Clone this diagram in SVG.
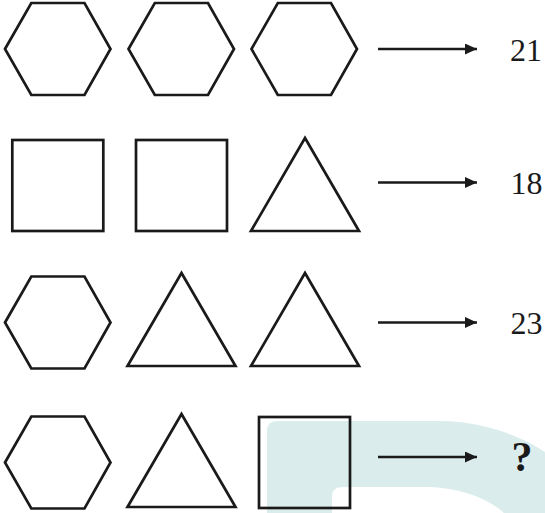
<svg xmlns="http://www.w3.org/2000/svg" xmlns:xlink="http://www.w3.org/1999/xlink" width="545" height="513" viewBox="0 0 545 513">
<style>
.s{fill:none;stroke:#1a1a1a;stroke-width:2.7;stroke-linejoin:miter}
.a{stroke:#1a1a1a;stroke-width:2.6;fill:none}
.t{font-family:"Liberation Serif","Times New Roman",serif;font-size:32px;fill:#1a1a1a}
.q{font-family:"Liberation Serif","Times New Roman",serif;font-size:42px;font-weight:bold;fill:#1a1a1a}
</style>
<defs>
<polygon id="hex" points="0,46 26.3,0 79.5,0 105.5,46 79.5,92 26.3,92"/>
<polygon id="tri" points="54,0 108,93 0,93"/>
<marker id="ah" viewBox="0 0 12 11" refX="12" refY="5.5" markerWidth="12" markerHeight="11" markerUnits="userSpaceOnUse" orient="auto">
<path d="M0,0 L12,5.5 L0,11 Z" fill="#1a1a1a"/>
</marker>
</defs>
<rect width="545" height="513" fill="#ffffff"/>
<path id="watermark" fill="#dbeced" fill-rule="evenodd" d="M267,513 L267,431 Q267,421 277,421 L440,421 C485,421 525,438 545,452 L545,513 Z M332,513 L332,497 Q332,487 342,487 L425,487 C458,487 488,498 504,513 Z"/>
<g id="r1-hex1"><use xlink:href="#hex" class="s" x="5" y="3"/></g>
<g id="r1-hex2"><use xlink:href="#hex" class="s" x="128.5" y="3"/></g>
<g id="r1-hex3"><use xlink:href="#hex" class="s" x="251.5" y="3"/></g>
<g id="r2-sq1"><rect class="s" x="12.3" y="140" width="91" height="91"/></g>
<g id="r2-sq2"><rect class="s" x="136" y="140" width="91" height="91"/></g>
<g id="r2-tri"><use xlink:href="#tri" class="s" x="251" y="138"/></g>
<g id="r3-hex"><use xlink:href="#hex" class="s" x="5" y="276.5"/></g>
<g id="r3-tri1"><use xlink:href="#tri" class="s" x="127.5" y="273"/></g>
<g id="r3-tri2"><use xlink:href="#tri" class="s" x="251" y="273"/></g>
<g id="r4-hex"><use xlink:href="#hex" class="s" x="5" y="416.5"/></g>
<g id="r4-tri"><use xlink:href="#tri" class="s" x="127.5" y="414"/></g>
<g id="r4-sq"><rect class="s" x="259" y="417" width="91" height="91"/></g>
<g id="connectors">
<line class="a" x1="378" y1="49" x2="477" y2="49" marker-end="url(#ah)"/>
<line class="a" x1="378" y1="182.5" x2="477" y2="182.5" marker-end="url(#ah)"/>
<line class="a" x1="378" y1="322.5" x2="477" y2="322.5" marker-end="url(#ah)"/>
<line class="a" x1="378" y1="457" x2="477" y2="457" marker-end="url(#ah)"/>
</g>
<g id="r1-result"><text class="t" x="510" y="60.5">21</text></g>
<g id="r2-result"><text class="t" x="510.5" y="194">18</text></g>
<g id="r3-result"><text class="t" x="510.5" y="334">23</text></g>
<g id="r4-result"><text class="q" x="511.5" y="471">?</text></g>
</svg>
